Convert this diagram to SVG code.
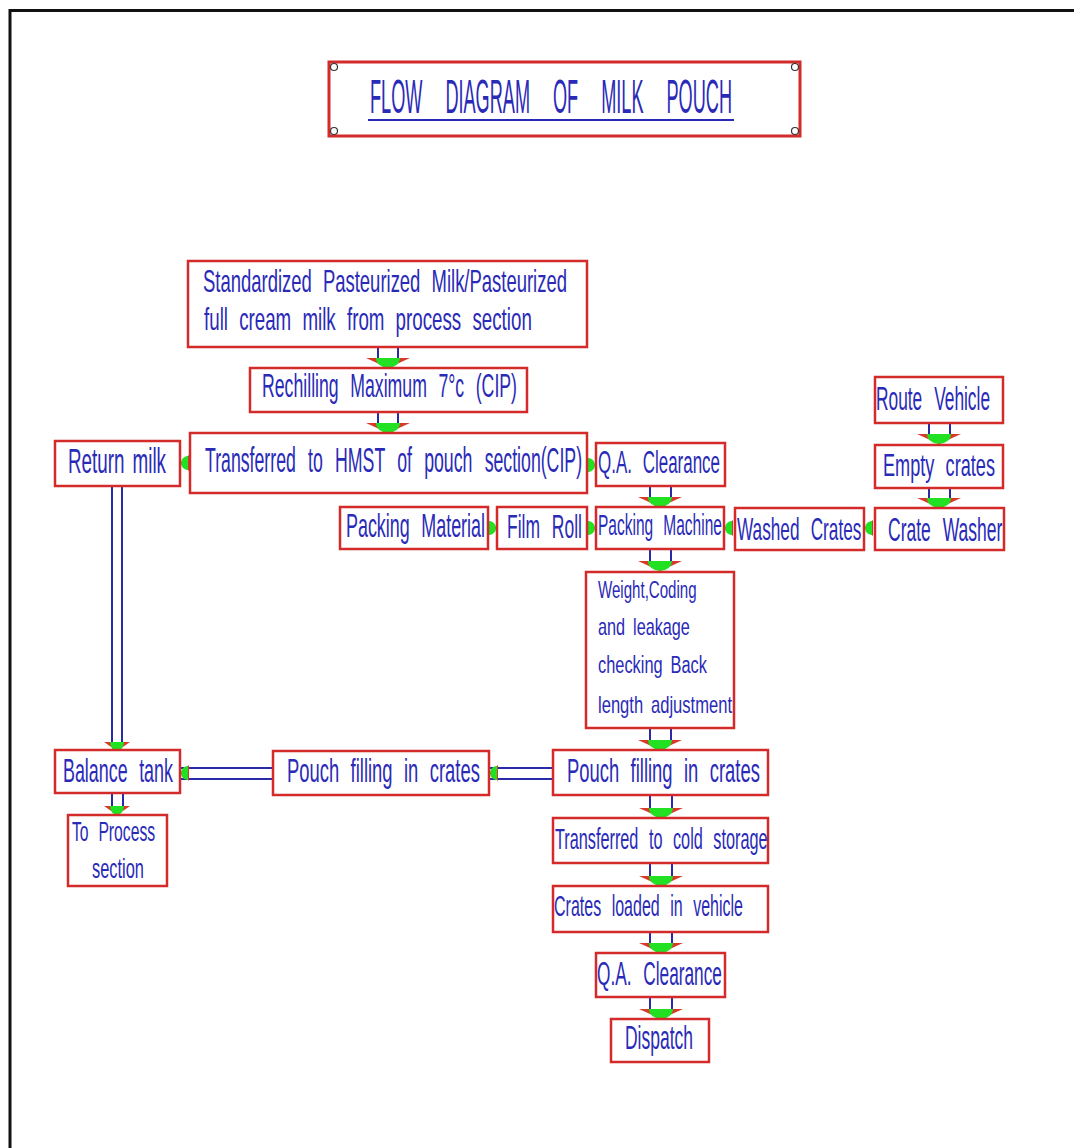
<svg xmlns="http://www.w3.org/2000/svg" xmlns:xlink="http://www.w3.org/1999/xlink" width="1074" height="1148" viewBox="0 0 1074 1148">
<style>
.box{fill:#fff;stroke:#d42a2a;stroke-width:2.5}
.t{font-family:"Liberation Sans",Arial,sans-serif;fill:#2a2ab8}
.c{stroke:#2a2aa8;stroke-width:2;fill:none}
.corner{fill:#fff;stroke:#333;stroke-width:1.2}
</style>
<defs>
<g id="ad"><polygon points="-22,0 22,0 0,10" fill="#d83a2a"/><path d="M-12,0 A12,10 0 0 0 12,0 Z" fill="#22e022"/></g>
<g id="ads"><polygon points="-13,0 13,0 0,9" fill="#d83a2a"/><path d="M-7,0 A7,9 0 0 0 7,0 Z" fill="#22e022"/></g>
<g id="al"><polygon points="0,0 9,-8 9,8" fill="#d83a2a"/><path d="M8,-7 A7,7 0 0 0 8,7 Z" fill="#22e022"/></g>
<g id="ar"><polygon points="0,0 -9,-8 -9,8" fill="#d83a2a"/><path d="M-8,-7 A7,7 0 0 1 -8,7 Z" fill="#22e022"/></g>
</defs>
<rect width="1074" height="1148" fill="#fff"/>
<rect x="10" y="10.5" width="1200" height="1300" fill="none" stroke="#111" stroke-width="3"/>

<g id="title">
<rect x="329" y="62" width="471" height="74" fill="#fff" stroke="#d42a2a" stroke-width="3"/>
<circle class="corner" cx="334" cy="67" r="3.5"/><circle class="corner" cx="795" cy="67" r="3.5"/>
<circle class="corner" cx="334" cy="131" r="3.5"/><circle class="corner" cx="795" cy="131" r="3.5"/>
<text class="t" font-size="48" word-spacing="47.5" transform="translate(370,113) scale(0.378,1)">FLOW DIAGRAM OF MILK POUCH</text>
<line x1="368" y1="120" x2="734" y2="120" stroke="#2a2ab8" stroke-width="2"/>
</g>

<g id="connectors">
<path class="c" d="M378,347V358M398,347V358"/><use xlink:href="#ad" x="388" y="358"/>
<path class="c" d="M378,412V423M398,412V423"/><use xlink:href="#ad" x="388" y="423"/>
<use xlink:href="#al" x="180" y="463"/>
<use xlink:href="#ar" x="596" y="465"/>
<path class="c" d="M650,486V497M671,486V497"/><use xlink:href="#ad" x="660" y="497"/>
<use xlink:href="#ar" x="497" y="528"/>
<use xlink:href="#ar" x="596" y="528"/>
<use xlink:href="#al" x="724" y="528"/>
<use xlink:href="#al" x="864" y="528"/>
<path class="c" d="M929,423V434M950,423V434"/><use xlink:href="#ad" x="939" y="434"/>
<path class="c" d="M929,488V498M950,488V498"/><use xlink:href="#ad" x="939" y="498"/>
<path class="c" d="M650,549V561M671,549V561"/><use xlink:href="#ad" x="660" y="561"/>
<path class="c" d="M650,728V740M671,728V740"/><use xlink:href="#ad" x="660" y="740"/>
<path class="c" d="M553,768H489M553,779H489"/><use xlink:href="#al" x="489" y="773"/>
<path class="c" d="M273,768H180M273,779H180"/><use xlink:href="#al" x="180" y="773"/>
<path class="c" d="M112,486V742M122,486V742"/><use xlink:href="#ads" x="117" y="742"/>
<path class="c" d="M112,793V806M123,793V806"/><use xlink:href="#ads" x="117" y="806"/>
<path class="c" d="M650,795V808M672,795V808"/><use xlink:href="#ad" x="661" y="808"/>
<path class="c" d="M650,863V876M672,863V876"/><use xlink:href="#ad" x="661" y="876"/>
<path class="c" d="M650,932V943M672,932V943"/><use xlink:href="#ad" x="661" y="943"/>
<path class="c" d="M650,997V1009M672,997V1009"/><use xlink:href="#ad" x="661" y="1009"/>
</g>

<g id="n-source"><rect class="box" x="188" y="261" width="399" height="86"/>
<text class="t" font-size="32" word-spacing="10.5" transform="translate(203,292) scale(0.577,1)">Standardized Pasteurized Milk/Pasteurized</text>
<text class="t" font-size="32" word-spacing="10.2" transform="translate(204,330) scale(0.586,1)">full cream milk from process section</text></g>

<g id="n-rechill"><rect class="box" x="250" y="368" width="277" height="44"/>
<text class="t" font-size="33" word-spacing="12.4" transform="translate(262,397) scale(0.536,1)">Rechilling Maximum 7°c (CIP)</text></g>

<g id="n-hmst"><rect class="box" x="190" y="433" width="397" height="60"/>
<text class="t" font-size="35" word-spacing="14.5" transform="translate(205,472) scale(0.506,1)">Transferred to HMST of pouch section(CIP)</text></g>

<g id="n-return"><rect class="box" x="55" y="441" width="125" height="45"/>
<text class="t" font-size="35" word-spacing="5.2" transform="translate(68,473) scale(0.538,1)">Return milk</text></g>

<g id="n-qa1"><rect class="box" x="596" y="443" width="129" height="43"/>
<text class="t" font-size="31" word-spacing="11.2" transform="translate(598,473) scale(0.547,1)">Q.A. Clearance</text></g>

<g id="n-packmat"><rect class="box" x="340" y="507" width="148" height="42"/>
<text class="t" font-size="33" word-spacing="12.1" transform="translate(346,537) scale(0.543,1)">Packing Material</text></g>

<g id="n-film"><rect class="box" x="497" y="507" width="90" height="42"/>
<text class="t" font-size="34" word-spacing="13.7" transform="translate(507,538) scale(0.514,1)">Film Roll</text></g>

<g id="n-packmach"><rect class="box" x="596" y="507" width="128" height="42"/>
<text class="t" font-size="29" word-spacing="10.9" transform="translate(598,535) scale(0.535,1)">Packing Machine</text></g>

<g id="n-washed"><rect class="box" x="735" y="508" width="129" height="42"/>
<text class="t" font-size="32" word-spacing="11.9" transform="translate(737,540) scale(0.538,1)">Washed Crates</text></g>

<g id="n-washer"><rect class="box" x="875" y="508" width="129" height="42"/>
<text class="t" font-size="34" word-spacing="13.6" transform="translate(888,541) scale(0.515,1)">Crate Washer</text></g>

<g id="n-route"><rect class="box" x="875" y="377" width="128" height="46"/>
<text class="t" font-size="34" word-spacing="13.9" transform="translate(876,410) scale(0.51,1)">Route Vehicle</text></g>

<g id="n-empty"><rect class="box" x="875" y="445" width="128" height="43"/>
<text class="t" font-size="32" word-spacing="10.9" transform="translate(883,476) scale(0.567,1)">Empty crates</text></g>

<g id="n-weight"><rect class="box" x="586" y="572" width="148" height="156"/>
<text class="t" font-size="23" transform="translate(598,598) scale(0.656,1)">Weight,Coding</text>
<text class="t" font-size="23" word-spacing="4.9" transform="translate(598,635) scale(0.706,1)">and leakage</text>
<text class="t" font-size="23" word-spacing="4.8" transform="translate(598,673) scale(0.712,1)">checking Back</text>
<text class="t" font-size="23" word-spacing="4.6" transform="translate(598,713) scale(0.72,1)">length adjustment</text></g>

<g id="n-pouch2"><rect class="box" x="553" y="750" width="215" height="45"/>
<text class="t" font-size="33" word-spacing="11.5" transform="translate(567,782) scale(0.557,1)">Pouch filling in crates</text></g>

<g id="n-pouch1"><rect class="box" x="273" y="751" width="216" height="44"/>
<text class="t" font-size="33" word-spacing="11.5" transform="translate(287,782) scale(0.557,1)">Pouch filling in crates</text></g>

<g id="n-balance"><rect class="box" x="55" y="750" width="125" height="43"/>
<text class="t" font-size="33" word-spacing="12.1" transform="translate(63,782) scale(0.542,1)">Balance tank</text></g>

<g id="n-toprocess"><rect class="box" x="68" y="815" width="99" height="71"/>
<text class="t" font-size="28" word-spacing="9.6" transform="translate(72,841) scale(0.562,1)">To Process</text>
<text class="t" font-size="28" transform="translate(92,878) scale(0.586,1)">section</text></g>

<g id="n-cold"><rect class="box" x="553" y="818" width="215" height="45"/>
<text class="t" font-size="30" word-spacing="11.1" transform="translate(555,849) scale(0.542,1)">Transferred to cold storage</text></g>

<g id="n-loaded"><rect class="box" x="553" y="886" width="215" height="46"/>
<text class="t" font-size="30" word-spacing="11.3" transform="translate(554,916) scale(0.534,1)">Crates loaded in vehicle</text></g>

<g id="n-qa2"><rect class="box" x="596" y="953" width="129" height="44"/>
<text class="t" font-size="34" word-spacing="14" transform="translate(597,985) scale(0.507,1)">Q.A. Clearance</text></g>

<g id="n-dispatch"><rect class="box" x="611" y="1019" width="98" height="43"/>
<text class="t" font-size="33" transform="translate(625,1049) scale(0.53,1)">Dispatch</text></g>
</svg>
